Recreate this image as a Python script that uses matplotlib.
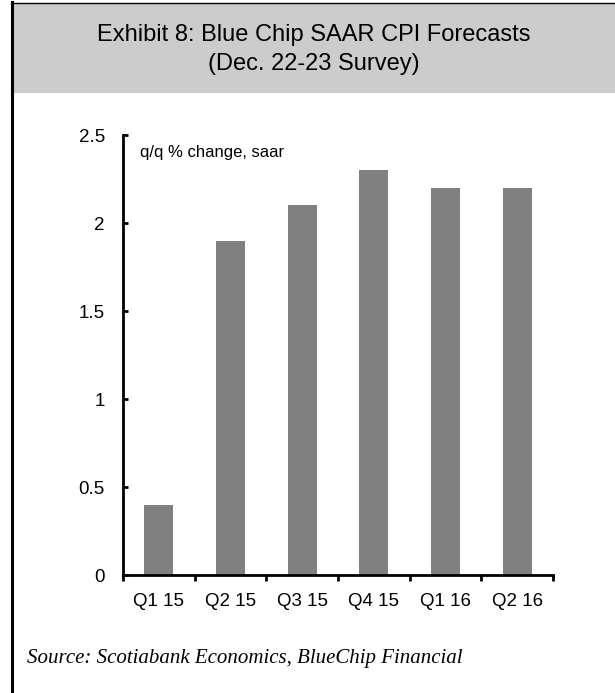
import matplotlib
matplotlib.use('Agg')
import matplotlib.pyplot as plt
from matplotlib.patches import Rectangle
from matplotlib.lines import Line2D
import numpy as np

# Chart data
quarters = ['Q1 15', 'Q2 15', 'Q3 15', 'Q4 15', 'Q1 16', 'Q2 16']
cpi_forecast = [0.4, 1.9, 2.1, 2.3, 2.2, 2.2]
y_ticks = [0, 0.5, 1, 1.5, 2, 2.5]
y_tick_labels = ['0', '0.5', '1', '1.5', '2', '2.5']

W, H = 615, 693
fig = plt.figure(figsize=(W / 100, H / 100), dpi=100)

def px(x, y):
    # pixel coords (from top-left) -> figure fraction
    return x / W, 1 - y / H

# grey header band + frame lines (left thick, top thin)
fig.patches.append(Rectangle(px(13, 93), (W - 13) / W, 90 / H, transform=fig.transFigure,
                             facecolor='#cccccc', edgecolor='none', zorder=-1))
fig.lines.append(Line2D([12 / W, 12 / W], [0, 1 - 2 / H], transform=fig.transFigure,
                        color='black', linewidth=2.2))
fig.lines.append(Line2D([11 / W, 1], [1 - 2.5 / H, 1 - 2.5 / H], transform=fig.transFigure,
                        color='black', linewidth=1))

title_font = ['Liberation Sans Narrow', 'Liberation Sans', 'DejaVu Sans']
fig.text(*px(314, 35), 'Exhibit 8: Blue Chip SAAR CPI Forecasts', ha='center', va='center',
         fontsize=17, family=title_font)
fig.text(*px(314, 64), '(Dec. 22-23 Survey)', ha='center', va='center',
         fontsize=17, family=title_font)

# axes region: x 123..553, y 135..575 (pixels from top)
ax = fig.add_axes([123 / W, 1 - 575 / H, 430 / W, 440 / H])
ax.patch.set_alpha(0)
x = np.arange(len(quarters))
ax.bar(x, cpi_forecast, width=0.4, color='#808080', zorder=2)

ax.set_xlim(-0.5, len(quarters) - 0.5)
ax.set_ylim(0, 2.5)
ax.set_yticks(y_ticks)
ax.set_yticklabels(y_tick_labels, family='Liberation Sans', fontsize=13.5)
ax.set_xticks(x)
ax.set_xticklabels(quarters, family='Liberation Sans', fontsize=13.5)
ax.tick_params(axis='x', which='major', length=0, pad=13)
ax.set_xticks(np.arange(-0.5, len(quarters)), minor=True)
ax.tick_params(axis='x', which='minor', length=4.3, width=2, direction='out')
ax.tick_params(axis='y', length=3.6, width=2, direction='in', pad=13)

for s in ['top', 'right']:
    ax.spines[s].set_visible(False)
for s in ['left', 'bottom']:
    ax.spines[s].set_linewidth(2)

ax.text(17 / 430, 1 - 18 / 440, 'q/q % change, saar', transform=ax.transAxes,
        ha='left', va='center', family='Liberation Sans', fontsize=12)

fig.text(*px(27, 658), 'Source: Scotiabank Economics, BlueChip Financial',
         ha='left', va='center', family='Liberation Serif', style='italic', fontsize=15)

fig.savefig('out.png', dpi=100)
